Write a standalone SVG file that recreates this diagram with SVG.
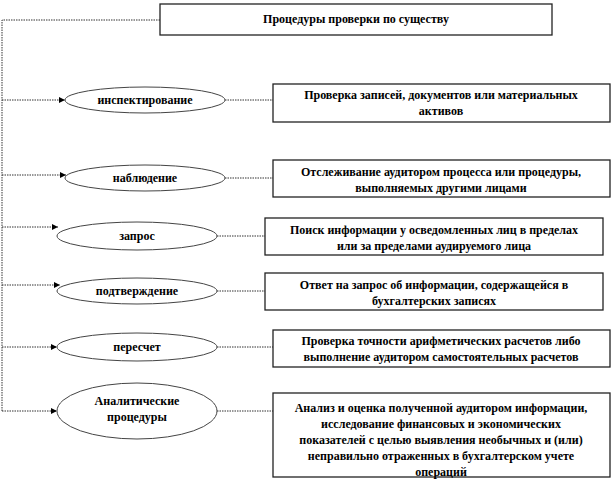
<svg xmlns="http://www.w3.org/2000/svg" width="612" height="485" viewBox="0 0 612 485">
<defs>
<marker id="ah" viewBox="0 0 10 10" refX="10" refY="5" markerWidth="6" markerHeight="6" orient="auto" markerUnits="userSpaceOnUse">
<path d="M0,0 L10,5 L0,10 Z" fill="#000"/>
</marker>
<style>
.box{fill:#fff;stroke:#222;stroke-width:1.3}
.ell{fill:#fff;stroke:#444;stroke-width:1}
.con{fill:none;stroke:#333;stroke-width:1;stroke-dasharray:1.5 1}
text{font-family:'Liberation Serif','DejaVu Serif','Times New Roman',serif;font-weight:bold;font-size:12px;fill:#000;text-anchor:middle}
</style>
</defs>
<rect width="612" height="485" fill="#fff"/>
<g id="connectors">
<path class="con" d="M160,20 H2 V411"/>
<path class="con" d="M2,100 H65" marker-end="url(#ah)"/>
<path class="con" d="M2,175 H66" marker-end="url(#ah)"/>
<path class="con" d="M2,227 H58" marker-end="url(#ah)"/>
<path class="con" d="M2,285 H60" marker-end="url(#ah)"/>
<path class="con" d="M2,347 H57" marker-end="url(#ah)"/>
<path class="con" d="M2,411 H57" marker-end="url(#ah)"/>
<path class="con" d="M225,100 H273"/>
<path class="con" d="M225,178 H273"/>
<path class="con" d="M217,236 H265"/>
<path class="con" d="M217,291 H265"/>
<path class="con" d="M217,347 H273"/>
<path class="con" d="M217,411 H273"/>
</g>
<g id="root">
<rect class="box" x="160" y="4" width="392" height="31"/>
<text x="356" y="23">Процедуры проверки по существу</text>
</g>
<g id="n1">
<ellipse class="ell" cx="145" cy="100" rx="80" ry="13"/>
<text x="145" y="104">инспектирование</text>
</g>
<g id="d1">
<rect class="box" x="273" y="84" width="337" height="38"/>
<text x="441" y="99">Проверка записей, документов или материальных</text>
<text x="441" y="115">активов</text>
</g>
<g id="n2">
<ellipse class="ell" cx="145" cy="178" rx="80" ry="13"/>
<text x="145" y="182">наблюдение</text>
</g>
<g id="d2">
<rect class="box" x="273" y="160" width="337" height="37"/>
<text x="441" y="176">Отслеживание  аудитором процесса или процедуры,</text>
<text x="441" y="192">выполняемых  другими лицами</text>
</g>
<g id="n3">
<ellipse class="ell" cx="137" cy="236" rx="80" ry="14"/>
<text x="137" y="240">запрос</text>
</g>
<g id="d3">
<rect class="box" x="265" y="218" width="338" height="37"/>
<text x="434" y="234">Поиск информации у осведомленных лиц в пределах</text>
<text x="434" y="250">или за пределами аудируемого лица</text>
</g>
<g id="n4">
<ellipse class="ell" cx="137" cy="291" rx="80" ry="13"/>
<text x="137" y="295">подтверждение</text>
</g>
<g id="d4">
<rect class="box" x="265" y="273" width="338" height="37"/>
<text x="434" y="289">Ответ на запрос об информации, содержащейся в</text>
<text x="434" y="305">бухгалтерских  записях</text>
</g>
<g id="n5">
<ellipse class="ell" cx="137" cy="347" rx="80" ry="14"/>
<text x="137" y="351">пересчет</text>
</g>
<g id="d5">
<rect class="box" x="273" y="330" width="337" height="37"/>
<text x="441" y="345">Проверка точности арифметических расчетов либо</text>
<text x="441" y="361">выполнение аудитором самостоятельных  расчетов</text>
</g>
<g id="n6">
<ellipse class="ell" cx="137" cy="411" rx="80" ry="28"/>
<text x="137" y="405">Аналитические</text>
<text x="137" y="421">процедуры</text>
</g>
<g id="d6">
<rect class="box" x="273" y="393" width="337" height="84"/>
<text x="441" y="412">Анализ и оценка полученной аудитором информации,</text>
<text x="441" y="428">исследование  финансовых  и экономических</text>
<text x="441" y="444">показателей с целью  выявления необычных и (или)</text>
<text x="441" y="460">неправильно отраженных  в бухгалтерском  учете</text>
<text x="441" y="476">операций</text>
</g>
</svg>
